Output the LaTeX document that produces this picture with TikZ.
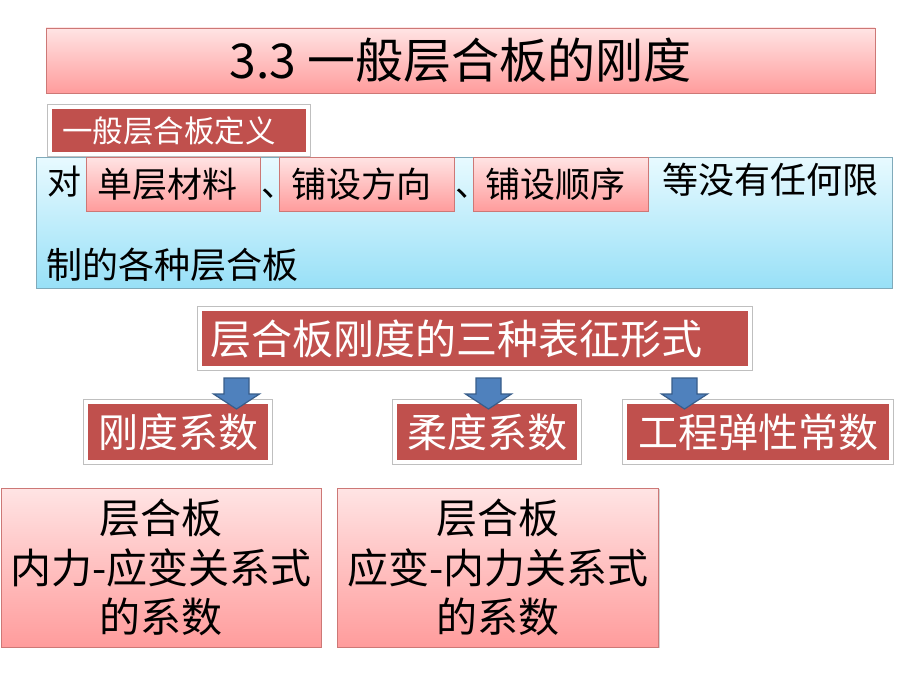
\documentclass[tikz,border=0pt]{standalone}
\usepackage{fontspec}
\setmainfont{Noto Sans CJK SC}
\usetikzlibrary{shadows}
\definecolor{dred}{RGB}{192,80,77}
\definecolor{pinkT}{RGB}{255,228,228}
\definecolor{pinkB}{RGB}{255,156,156}
\definecolor{pinkD}{RGB}{205,120,118}
\definecolor{cyanT}{RGB}{232,250,255}
\definecolor{cyanB}{RGB}{152,224,247}
\definecolor{cyanD}{RGB}{128,170,186}
\definecolor{arrB}{RGB}{79,129,189}
\definecolor{arrD}{RGB}{56,93,138}
\begin{document}
\begin{tikzpicture}[x=1pt,y=-1pt,
  pinkbox/.style={draw=pinkD, line width=0.8pt, top color=pinkT, bottom color=pinkB,
    inner sep=0pt, drop shadow={shadow xshift=1pt, shadow yshift=-1.2pt, opacity=0.35}},
  bluebox/.style={draw=cyanD, line width=0.8pt, top color=cyanT, bottom color=cyanB,
    inner sep=0pt, drop shadow={shadow xshift=1pt, shadow yshift=-1.2pt, opacity=0.35}},
  redbox/.style={fill=dred, draw=white, line width=4pt, text=white, inner sep=0pt,
    preaction={draw=black!25, line width=5.6pt}},
  plain/.style={inner sep=0pt, anchor=base west},
  blockarrow/.style={fill=arrB, draw=arrD, line width=1.2pt, line join=miter}
]
\useasboundingbox (0,0) rectangle (920,690);
% title
\node[pinkbox, minimum width=829pt, minimum height=65pt, font=\fontsize{48}{52}\selectfont]
  (title) at (460.5,60.5) {3.3 一般层合板的刚度};
% definition area
\node[bluebox, minimum width=856pt, minimum height=131pt] (area) at (464,222.5) {};
\node[redbox, minimum width=258pt, minimum height=47pt, text width=234pt, align=left,
  font=\fontsize{30.5}{34}\selectfont] (def) at (179,130.5) {一般层合板定义};
\node[plain, font=\fontsize{34}{38}\selectfont] (dui) at (47,194) {对};
\node[pinkbox, minimum width=174pt, minimum height=54pt, text width=152pt, align=left,
  font=\fontsize{35}{38}\selectfont] (mat) at (173,184) {单层材料};
\node[plain, font=\fontsize{34}{38}\selectfont] (c1) at (261,196) {、};
\node[pinkbox, minimum width=175pt, minimum height=54pt, text width=151pt, align=left,
  font=\fontsize{35}{38}\selectfont] (dir) at (366.5,184) {铺设方向};
\node[plain, font=\fontsize{34}{38}\selectfont] (c2) at (455,196) {、};
\node[pinkbox, minimum width=175pt, minimum height=54pt, text width=151pt, align=left,
  font=\fontsize{35}{38}\selectfont] (seq) at (560.5,184) {铺设顺序};
\node[plain, font=\fontsize{36}{40}\selectfont] (rest) at (662,193) {等没有任何限};
\node[plain, font=\fontsize{36}{40}\selectfont] (rest2) at (46,278) {制的各种层合板};
% three forms
\node[redbox, minimum width=550pt, minimum height=59pt, text width=530pt, align=left,
  font=\fontsize{41}{46}\selectfont] (forms) at (475,338.5) {层合板刚度的三种表征形式};
\node[redbox, minimum width=184pt, minimum height=60pt, font=\fontsize{40}{46}\selectfont]
  (stiff) at (178,432) {刚度系数};
\node[redbox, minimum width=184pt, minimum height=60pt, font=\fontsize{40}{46}\selectfont]
  (flex) at (487,432) {柔度系数};
\node[redbox, minimum width=266pt, minimum height=60pt, font=\fontsize{40}{46}\selectfont]
  (eng) at (758,432) {工程弹性常数};
% block arrows from the forms box down to each box
\coordinate (t1) at (236.5,378);
\coordinate (t2) at (488.5,378);
\coordinate (t3) at (684.5,378);
\foreach \t in {t1,t2,t3}{
  \draw[blockarrow, shift={(\t)}] (-12.5,0) -- (12.5,0) -- (12.5,16) -- (23,16) -- (0,31)
    -- (-23,16) -- (-12.5,16) -- cycle;
}
% bottom boxes
\node[pinkbox, minimum width=320pt, minimum height=159pt, align=center,
  font=\fontsize{41}{49.5}\selectfont] (left) at (161,567.5)
  {层合板\\内力-应变关系式\\的系数};
\node[pinkbox, minimum width=321pt, minimum height=159pt, align=center,
  font=\fontsize{41}{49.5}\selectfont] (right) at (498,567.5)
  {层合板\\应变-内力关系式\\的系数};
\end{tikzpicture}
\end{document}
